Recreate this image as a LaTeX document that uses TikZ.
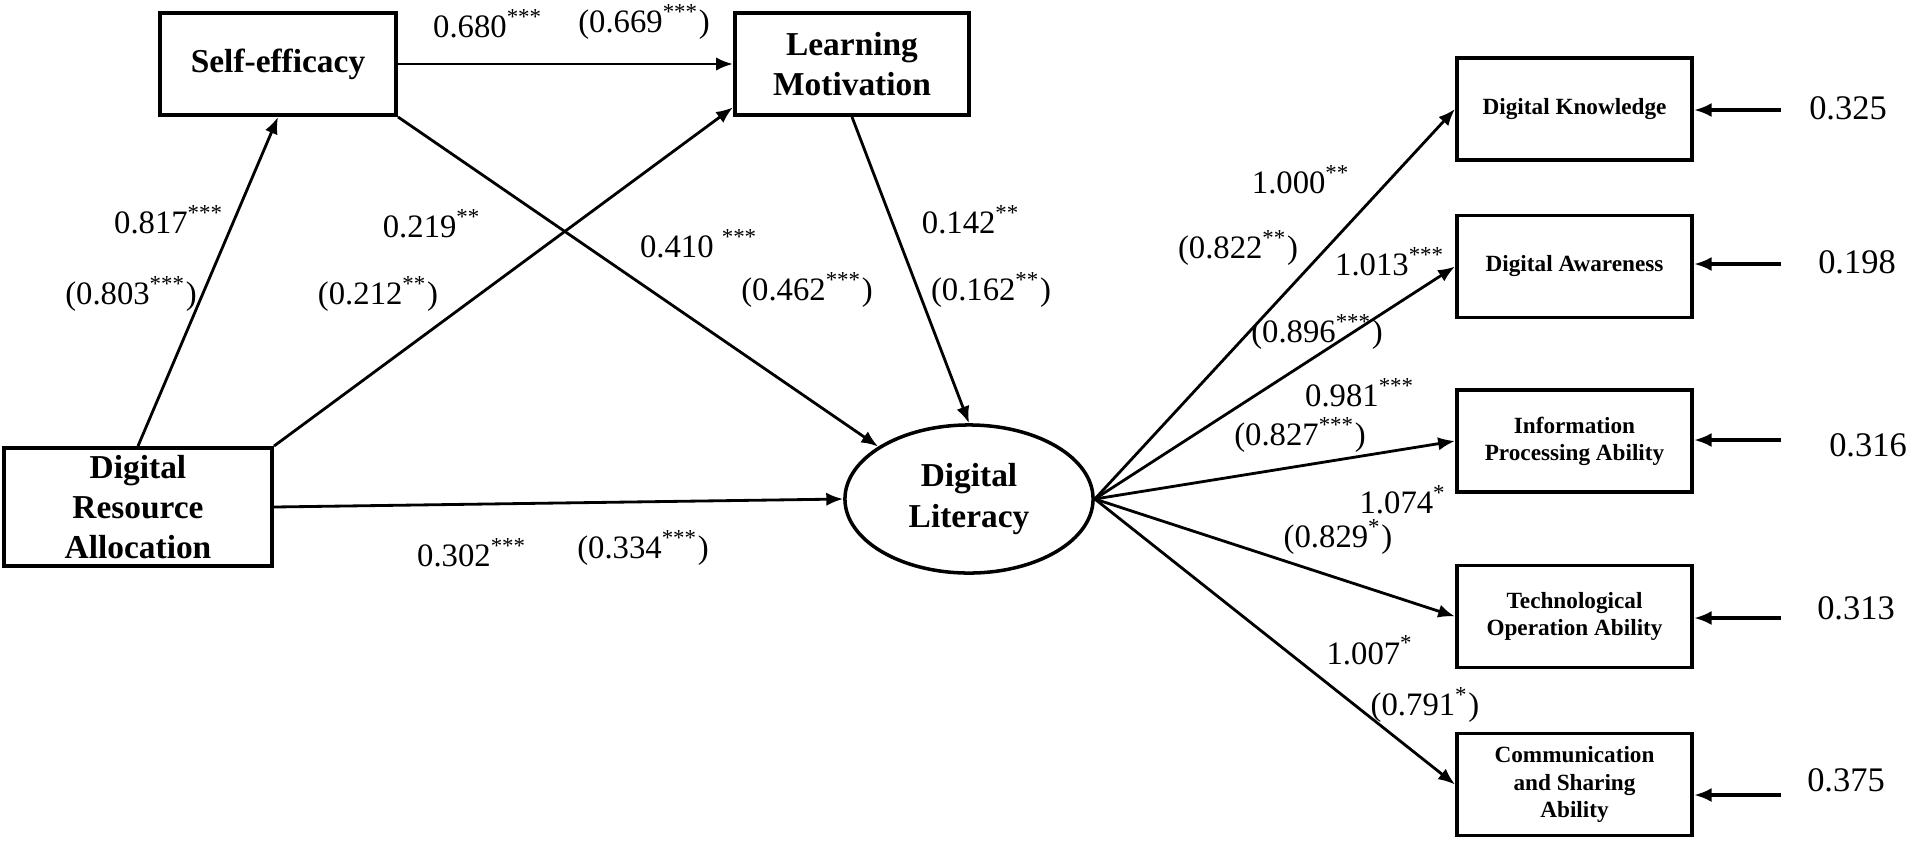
\documentclass[tikz,border=0pt]{standalone}
\usepackage{fontspec}
\setmainfont{Liberation Serif}
\usetikzlibrary{arrows.meta,shapes.geometric}
\begin{document}
\begin{tikzpicture}[x=0.01cm,y=-0.01cm,
  box/.style={draw, line width=1.1pt, inner sep=0pt, align=center,
    font=\bfseries\fontsize{9.5}{11.4}\selectfont},
  sbox/.style={draw, line width=1.1pt, inner sep=0pt, align=center,
    minimum width=2.35cm, minimum height=1.02cm,
    font=\bfseries\fontsize{6.6}{7.7}\selectfont},
  ell/.style={draw, ellipse, line width=1pt, inner sep=0pt, align=center,
    font=\bfseries\fontsize{9.5}{11.4}\selectfont},
  lbl/.style={font=\fontsize{9.3}{11}\selectfont, inner sep=1pt},
  elbl/.style={font=\fontsize{9.8}{11}\selectfont, inner sep=1pt},
  arr/.style={-{Latex[length=4.8pt,width=3.8pt]}, line width=0.8pt},
  err/.style={-{Latex[length=5pt,width=4pt]}, line width=1.2pt}]
\useasboundingbox (0,0) rectangle (1907,842);
% nodes
\node[box, minimum width=2.36cm, minimum height=1.02cm] (se) at (278,64) {Self-efficacy};
\node[box, minimum width=2.34cm, minimum height=1.02cm] (lm) at (852,64) {Learning\\Motivation};
\node[box, minimum width=2.68cm, minimum height=1.18cm] (dra) at (138,507) {Digital\\Resource\\Allocation};
\node[ell, minimum width=2.48cm, minimum height=1.48cm] (dl) at (969,499) {Digital\\Literacy};
\node[sbox] (dk) at (1574.5,109) {Digital Knowledge};
\node[sbox] (da) at (1574.5,266.5) {Digital Awareness};
\node[sbox] (ipa) at (1574.5,441) {Information\\Processing Ability};
\node[sbox] (toa) at (1574.5,616.5) {Technological\\Operation Ability};
\node[sbox] (csa) at (1574.5,784.5) {Communication\\and Sharing\\Ability};
% error terms
\node[elbl] (e1) at (1848,108) {0.325};
\node[elbl] (e2) at (1857,262) {0.198};
\node[elbl] (e3) at (1868,445) {0.316};
\node[elbl] (e4) at (1856,608) {0.313};
\node[elbl] (e5) at (1846,780) {0.375};
\coordinate (c1) at (1781,110);
\coordinate (c2) at (1781,264);
\coordinate (c3) at (1781,440);
\coordinate (c4) at (1781,618);
\coordinate (c5) at (1781,795);
% structural arrows
\draw[arr] (dra.north) -- (se.south);
\draw[arr] (dra.north east) -- (lm.200);
\draw[arr] (se.east) -- (lm.west);
\draw[arr] (se.south east) -- (dl.150);
\draw[arr] (lm.south) -- (dl.north);
\draw[arr] (dra.east) -- (dl.west);
% measurement arrows
\draw[arr] (dl.east) -- (dk.west);
\draw[arr] (dl.east) -- (da.west);
\draw[arr] (dl.east) -- (ipa.west);
\draw[arr] (dl.east) -- (toa.west);
\draw[arr] (dl.east) -- (csa.west);
% error arrows
\draw[err] (c1) -- (c1 -| dk.east);
\draw[err] (c2) -- (c2 -| da.east);
\draw[err] (c3) -- (c3 -| ipa.east);
\draw[err] (c4) -- (c4 -| toa.east);
\draw[err] (c5) -- (c5 -| csa.east);
% path labels
\node[lbl] (l1) at (488,24) {0.680\textsuperscript{***}};
\node[lbl] (l2) at (644,22) {(0.669\textsuperscript{***})};
\node[lbl] (l3) at (169,220) {0.817\textsuperscript{***}};
\node[lbl] (l4) at (131,294) {(0.803\textsuperscript{***})};
\node[lbl] (l5) at (432,224) {0.219\textsuperscript{**}};
\node[lbl] (l6) at (378,294) {(0.212\textsuperscript{**})};
\node[lbl] (l7) at (699,244) {0.410 \textsuperscript{***}};
\node[lbl] (l8) at (807,290) {(0.462\textsuperscript{***})};
\node[lbl] (l9) at (971,220) {0.142\textsuperscript{**}};
\node[lbl] (l10) at (991,290) {(0.162\textsuperscript{**})};
\node[lbl] (l11) at (472,553) {0.302\textsuperscript{***}};
\node[lbl] (l12) at (643,548) {(0.334\textsuperscript{***})};
\node[lbl] (l13) at (1301,180) {1.000\textsuperscript{**}};
\node[lbl] (l14) at (1238,248) {(0.822\textsuperscript{**})};
\node[lbl] (l15) at (1390,262) {1.013\textsuperscript{***}};
\node[lbl] (l16) at (1317,332) {(0.896\textsuperscript{***})};
\node[lbl] (l17) at (1360,393) {0.981\textsuperscript{***}};
\node[lbl] (l18) at (1300,435) {(0.827\textsuperscript{***})};
\node[lbl] (l19) at (1403,500) {1.074\textsuperscript{*}};
\node[lbl] (l20) at (1338,537) {(0.829\textsuperscript{*})};
\node[lbl] (l21) at (1370,650) {1.007\textsuperscript{*}};
\node[lbl] (l22) at (1425,705) {(0.791\textsuperscript{*})};
\end{tikzpicture}
\end{document}
